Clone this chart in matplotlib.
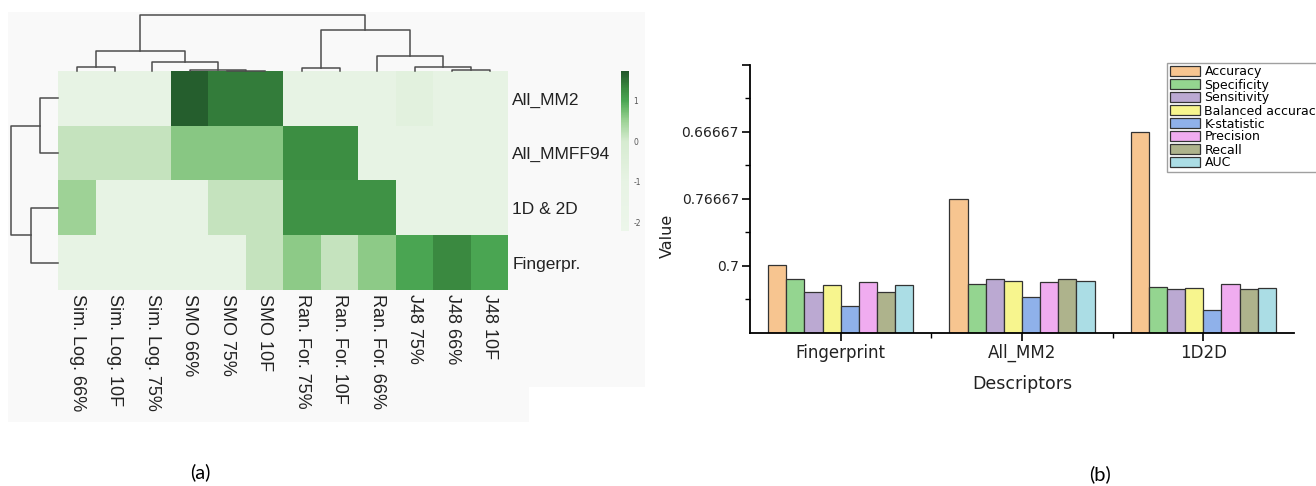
import matplotlib
matplotlib.use('Agg')
import matplotlib.pyplot as plt
import numpy as np
from matplotlib.colors import LinearSegmentedColormap
from matplotlib.patches import Polygon

plt.rcParams['axes.unicode_minus'] = False

W, H = 1316, 486

# ---- panel (a): clustered heatmap ----
row_labels = ['All_MM2', 'All_MMFF94', '1D & 2D', 'Fingerpr.']
col_labels = ['Sim. Log. 66%', 'Sim. Log. 10F', 'Sim. Log. 75%', 'SMO 66%', 'SMO 75%',
              'SMO 10F', 'Ran. For. 75%', 'Ran. For. 10F', 'Ran. For. 66%',
              'J48 75%', 'J48 66%', 'J48 10F']
mm2_row = [-1, -1, -1, 1.65, 1.4, 1.4, -1, -1, -1, -0.7, -1, -1]
mmff_row = [0.15, 0.15, 0.15, 0.62, 0.62, 0.62, 1.25, 1.25, -1, -1, -1, -1]
d12_row = [0.48, -1, -1, -1, 0.15, 0.15, 1.2, 1.2, 1.2, -1, -1, -1]
fp_row = [-1, -1, -1, -1, -1, 0.15, 0.6, 0.15, 0.6, 1.0, 1.3, 1.0]

# linkage: (left, right, height) in leaf order shown
col_links = [(4, 5, 0.3), (3, 12, 1.0), (0, 1, 4.3), (2, 13, 8.7), (14, 15, 20.3),
             (10, 11, 1.0), (9, 17, 4.3), (6, 7, 2.7), (8, 18, 15.0), (19, 20, 41.0),
             (16, 21, 56.0)]
row_links = [(0, 1, 18.3), (2, 3, 27.3), (4, 5, 47.3)]

# ---- panel (b): grouped bars ----
groups = ['Fingerprint', 'All_MM2', '1D2D']
metrics = ['Accuracy', 'Specificity', 'Sensitivity', 'Balanced accuracy',
           'K-statistic', 'Precision', 'Recall', 'AUC']
colors = ['#f7c590', '#94d590', '#bba9d2', '#f7f58e', '#8fb1ea', '#f0acf0', '#aeb38c', '#abdde5']
fingerprint_vals = [1.005, 0.805, 0.605, 0.71, 0.405, 0.755, 0.605, 0.71]
mm2_vals = [2.0, 0.735, 0.805, 0.77, 0.54, 0.755, 0.805, 0.775]
d1d2_vals = [3.005, 0.69, 0.655, 0.67, 0.34, 0.735, 0.655, 0.67]
ytick_pos = [1, 2, 3, 4]
ytick_labels = ['0.7', '0.76667', '0.66667', '']


def box(x0, y0, x1, y1):
    return [x0 / W, 1 - y1 / H, (x1 - x0) / W, (y1 - y0) / H]


def dendro_lines(n, links):
    pos = {i: i + 0.5 for i in range(n)}
    hgt = {i: 0.0 for i in range(n)}
    segs = []
    for k, (a, b, h) in enumerate(links):
        segs.append(([pos[a], pos[a], pos[b], pos[b]], [hgt[a], h, h, hgt[b]]))
        pos[n + k] = (pos[a] + pos[b]) / 2
        hgt[n + k] = h
    return segs


fig = plt.figure(figsize=(W / 100, H / 100), dpi=100)

# light grey panel background
pts = np.array([(8, 12), (645, 12), (645, 387), (529, 387), (529, 422), (8, 422)], float)
pts[:, 0] /= W
pts[:, 1] = 1 - pts[:, 1] / H
fig.patches.append(Polygon(pts, closed=True, transform=fig.transFigure,
                           facecolor='#f9f9f9', edgecolor='none', zorder=-10))

vmin, vmax = -2.2, 1.72
stops = [(-2.2, '#ecf6ea'), (-1.0, '#e7f3e4'), (0.0, '#d6ebd0'), (0.5, '#9dd295'),
         (0.8, '#6bb96b'), (1.0, '#4aa552'), (1.3, '#3a8a40'), (1.72, '#21562a')]
cmap = LinearSegmentedColormap.from_list(
    'grn', [((v - vmin) / (vmax - vmin), c) for v, c in stops])

data = np.array([mm2_row, mmff_row, d12_row, fp_row])
hm = fig.add_axes(box(58.3, 71, 508.3, 290))
mesh = hm.pcolormesh(data, cmap=cmap, vmin=vmin, vmax=vmax)
hm.set_xlim(0, 12)
hm.set_ylim(4, 0)
hm.set_xticks(np.arange(12) + 0.5)
hm.set_xticklabels(col_labels, rotation=270, fontsize=13, family='Liberation Sans',
                   color='#222222', va='top', ha='center')
hm.yaxis.tick_right()
hm.set_yticks(np.arange(4) + 0.5)
hm.set_yticklabels(row_labels, fontsize=12.5, family='Liberation Sans', color='#222222')
hm.tick_params(length=0, pad=3)
for s in hm.spines.values():
    s.set_visible(False)

cd = fig.add_axes(box(58.3, 15, 508.3, 71))
for xs, ys in dendro_lines(12, col_links):
    cd.plot(xs, ys, color='#4d4d4d', lw=1.1, clip_on=False)
cd.set_xlim(0, 12)
cd.set_ylim(0, 56)
cd.axis('off')

rd = fig.add_axes(box(11, 71, 58.3, 290))
for xs, ys in dendro_lines(4, row_links):
    rd.plot(ys, xs, color='#4d4d4d', lw=1.1, clip_on=False)
rd.set_xlim(47.3, 0)
rd.set_ylim(4, 0)
rd.axis('off')

cax = fig.add_axes(box(620.7, 71, 629.3, 230.7))
cb = fig.colorbar(mesh, cax=cax, ticks=[-2, -1, 0, 1])
cb.outline.set_visible(False)
cax.tick_params(length=0, labelsize=5.5, labelcolor='#555555', pad=3)

fig.text(200 / W, 1 - 472 / H, '(a)', fontsize=14.5, family='Lato', ha='center', va='center')

# ---- panel (b) ----
ax = fig.add_axes(box(750, 65, 1294, 332.7))
x = np.arange(len(groups))
series = np.array([fingerprint_vals, mm2_vals, d1d2_vals]).T
bw = 0.1
for j, name in enumerate(metrics):
    ax.bar(x + (j - 3.5) * bw, series[j], width=bw, color=colors[j],
           edgecolor='#333333', linewidth=0.9, label=name)
ax.set_xlim(-0.5, 2.5)
ax.set_ylim(0, 4)
ax.set_xticks(x)
ax.set_xticklabels(groups, fontsize=12, color='#222222')
ax.set_xticks([0.5, 1.5], minor=True)
ax.set_yticks(ytick_pos)
ax.set_yticklabels(ytick_labels, fontsize=10, color='#222222')
ax.set_yticks([0.5, 1.5, 2.5, 3.5], minor=True)
ax.tick_params(axis='both', which='major', direction='out', length=6, width=1.2)
ax.tick_params(axis='both', which='minor', direction='out', length=3.5, width=1.0)
ax.tick_params(axis='x', which='major', pad=2)
ax.tick_params(axis='y', which='major', pad=2)
ax.spines['top'].set_visible(False)
ax.spines['right'].set_visible(False)
ax.spines['left'].set_linewidth(1.3)
ax.spines['bottom'].set_linewidth(1.3)

fig.text(667.5 / W, 1 - 236 / H, 'Value', rotation=90, fontsize=11.5, ha='center', va='center',
         color='#222222')
fig.text(1022 / W, 1 - 384 / H, 'Descriptors', fontsize=12.5, ha='center', va='center',
         color='#222222')

# legend runs past the right edge, as in the source figure
leg = ax.legend(loc='upper left', bbox_to_anchor=(1167 / W, 1 - 63 / H),
                bbox_transform=fig.transFigure, fontsize=9, frameon=True, fancybox=False,
                borderaxespad=0, borderpad=0.2, labelspacing=0.0, handlelength=2.4,
                handleheight=0.85, handletextpad=0.4)
leg.get_frame().set_edgecolor('#888888')
leg.get_frame().set_linewidth(1.0)

fig.text(1099.5 / W, 1 - 474 / H, '(b)', fontsize=14.5, family='Lato', ha='center', va='center')

fig.savefig('out.png', dpi=100)
